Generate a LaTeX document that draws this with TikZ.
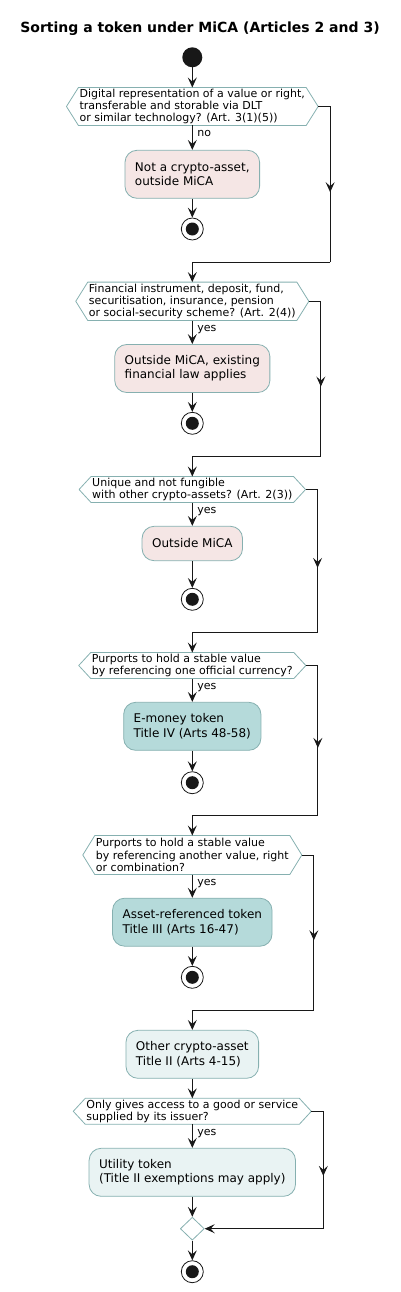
\documentclass[tikz,border=0pt]{standalone}
\usepackage{fontspec}
\setmainfont{DejaVu Sans}
\usetikzlibrary{arrows.meta,positioning,calc,shapes.geometric,decorations.markings}
\definecolor{ink}{HTML}{181818}
\definecolor{edgeteal}{HTML}{86B0B0}
\definecolor{pinkfill}{HTML}{F5E6E5}
\definecolor{tealfill}{HTML}{B5DADA}
\definecolor{palefill}{HTML}{E9F3F3}
\newcommand \mydecision[1]
{
\coordinate (#1p) at ($(#1.east)+(12,0)$);
\draw[edge] (#1.north west)--(#1.north east)--(#1p)--(#1.south east)--(#1.south west)--($(#1.west)+(-12,0)$)--cycle;
}
\newcommand \mybranch[2]
{
\draw[ink,line width=1pt] (#1p)--++(12,0) coordinate (#1r);
\draw[ink,line width=1pt,midarrow] (#1r)--(#1r |- #2);
\draw[ink,line width=1pt] (#1r |- #2)--(#2);
}

\begin{document}
\begin{tikzpicture}[x=1pt,y=-1pt, line join=round,
  edge/.style={draw=edgeteal, line width=0.8pt},
  flow/.style={draw=ink, line width=1pt, -{Stealth[length=10pt,width=9pt,inset=4pt]}},
  midarrow/.style={postaction={decorate}, decoration={markings, mark=at position 0.55 with {\arrow{Stealth[length=10pt,width=9pt,inset=4pt]}}}},
  decision/.style={inner xsep=1pt, inner ysep=0pt, minimum height=25.6pt, align=left, font=\fontsize{11}{12.3}\selectfont},
  activity/.style={rounded corners=12pt, edge, inner xsep=10pt, inner ysep=0pt, minimum height=48pt, align=left, font=\fontsize{12}{14.3}\selectfont},
  outbox/.style={activity, fill=pinkfill},
  tokenbox/.style={activity, fill=tealfill},
  otherbox/.style={activity, fill=palefill},
  yesno/.style={anchor=base west, pos=0, xshift=3.5pt, yshift=-10.7pt, inner sep=1pt, font=\fontsize{11}{12}\selectfont},
  startdot/.style={circle, fill=ink, minimum size=20pt, inner sep=0pt},
  endring/.style={circle, draw=ink, line width=0.8pt, fill=white, minimum size=22pt, inner sep=0pt,
    path picture={\fill[ink] (path picture bounding box.center) circle (6.5pt);}},
  merge/.style={diamond, edge, fill=white, minimum width=24pt, minimum height=23pt, inner sep=0pt}]
\useasboundingbox (0,0) rectangle (401,1292);

\node[anchor=base, font=\fontsize{14}{16}\selectfont\bfseries] (title) at (200,32.3) {Sorting a token under MiCA (Articles 2 and 3)};
\node[startdot] (start) at (192.3,57.3) {};

% art. 3(1)(5)
\node[decision, minimum height=37.6pt] (d1) at (192.3,106.5) {Digital representation of a value or right,\\transferable and storable via DLT\\or similar technology? (Art. 3(1)(5))};
\mydecision{d1}
\node[outbox] (b1) at (192.3,174.3) {Not a crypto-asset,\\outside MiCA};
\node[endring] (s1) at (192.3,229) {};
\coordinate (j1) at (192.3,262.3);

% art. 2(4)
\node[decision, minimum height=38pt] (d2) at (192.3,301.3) {Financial instrument, deposit, fund,\\securitisation, insurance, pension\\or social-security scheme? (Art. 2(4))};
\mydecision{d2}
\node[outbox] (b2) at (192.3,368.5) {Outside MiCA, existing\\financial law applies};
\node[endring] (s2) at (192.3,423.3) {};
\coordinate (j2) at (192.3,456.3);

% art. 2(3)
\node[decision] (d3) at (192.3,489.5) {Unique and not fungible\\with other crypto-assets? (Art. 2(3))};
\mydecision{d3}
\node[outbox, minimum height=34.4pt] (b3) at (192.3,543.5) {Outside MiCA};
\node[endring] (s3) at (192.3,599.3) {};
\coordinate (j3) at (192.3,632);

% e-money token
\node[decision] (d4) at (192.3,665.5) {Purports to hold a stable value\\by referencing one official currency?};
\mydecision{d4}
\node[tokenbox] (b4) at (192.3,726.3) {E-money token\\Title IV (Arts 48-58)};
\node[endring] (s4) at (192.3,782.7) {};
\coordinate (j4) at (192.3,815.3);

% asset-referenced token
\node[decision, minimum height=38.6pt] (d5) at (192.3,855) {Purports to hold a stable value\\by referencing another value, right\\or combination?};
\mydecision{d5}
\node[tokenbox] (b5) at (192.3,922.2) {Asset-referenced token\\Title III (Arts 16-47)};
\node[endring] (s5) at (192.3,977.3) {};
\coordinate (j5) at (192.3,1010);

% other crypto-assets
\node[otherbox] (b6) at (192.3,1054.3) {Other crypto-asset\\Title II (Arts 4-15)};
\node[decision] (d6) at (192.3,1111.3) {Only gives access to a good or service\\supplied by its issuer?};
\mydecision{d6}
\node[otherbox] (b7) at (192.3,1172.3) {Utility token\\(Title II exemptions may apply)};
\node[merge] (m) at (192.3,1228.7) {};
\node[endring] (s6) at (192.3,1271.7) {};

\draw[flow] (start)--(d1);
\draw[flow] (d1)-- node[yesno]{no} (b1);
\draw[flow] (b1)--(s1);
\mybranch{d1}{j1}
\draw[flow] (j1)--(d2);
\draw[flow] (d2)-- node[yesno]{yes} (b2);
\draw[flow] (b2)--(s2);
\mybranch{d2}{j2}
\draw[flow] (j2)--(d3);
\draw[flow] (d3)-- node[yesno]{yes} (b3);
\draw[flow] (b3)--(s3);
\mybranch{d3}{j3}
\draw[flow] (j3)--(d4);
\draw[flow] (d4)-- node[yesno]{yes} (b4);
\draw[flow] (b4)--(s4);
\mybranch{d4}{j4}
\draw[flow] (j4)--(d5);
\draw[flow] (d5)-- node[yesno]{yes} (b5);
\draw[flow] (b5)--(s5);
\mybranch{d5}{j5}
\draw[flow] (j5)--(b6);
\draw[flow] (b6)--(d6);
\draw[flow] (d6)-- node[yesno]{yes} (b7);
\draw[flow] (b7)--(m);
\draw[ink,line width=1pt] (d6p)--++(12,0) coordinate (d6r);
\draw[ink,line width=1pt,midarrow] (d6r)--(d6r |- m.east);
\draw[flow] (d6r |- m.east)--(m.east);
\draw[flow] (m)--(s6);
\end{tikzpicture}
\end{document}
